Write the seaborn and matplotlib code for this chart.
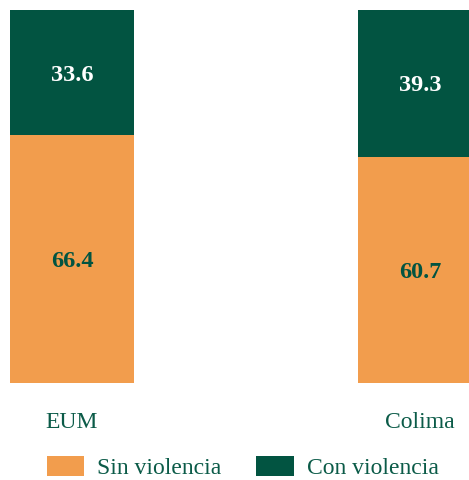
import matplotlib
matplotlib.use("Agg")
import matplotlib.pyplot as plt
import seaborn as sns
import pandas as pd
from matplotlib.patches import Patch

categories = ["EUM", "Colima"]
sin_violencia = [66.4, 60.7]
con_violencia = [33.6, 39.3]
legend_labels = ["Sin violencia", "Con violencia"]

ORANGE = "#F29D4D"
GREEN = "#025441"
TEXT_GREEN = "#0B5B48"

sns.set_theme(style="white")
plt.rcParams["font.family"] = ["Liberation Serif", "DejaVu Serif"]

df = pd.DataFrame({
    "cat": categories,
    "sin": sin_violencia,
    "con": con_violencia,
})
df["total"] = df["sin"] + df["con"]

fig = plt.figure(figsize=(4.69, 4.80), dpi=100)
ax = fig.add_axes([0, (480 - 383) / 480, 1, 373 / 480])

sns.barplot(data=df, x="cat", y="total", color=GREEN, width=0.356,
            saturation=1, ax=ax, linewidth=0)
sns.barplot(data=df, x="cat", y="sin", color=ORANGE, width=0.356,
            saturation=1, ax=ax, linewidth=0)

for i, (s, c) in enumerate(zip(sin_violencia, con_violencia)):
    ax.text(i, s / 2, f"{s:.1f}", ha="center", va="center_baseline", fontsize=17.5,
            fontweight="bold", color=GREEN)
    ax.text(i, s + c / 2, f"{c:.1f}", ha="center", va="center_baseline", fontsize=17.5,
            fontweight="bold", color="white")

ax.set_xlim(-72 / 348, (469 - 72) / 348)
ax.set_ylim(0, 100)
ax.set_xlabel("")
ax.set_ylabel("")
ax.set_yticks([])
ax.tick_params(axis="x", length=0, pad=21, labelsize=17, labelcolor=TEXT_GREEN)
sns.despine(ax=ax, left=True, bottom=True)

handles = [Patch(facecolor=ORANGE, edgecolor="none"),
           Patch(facecolor=GREEN, edgecolor="none")]
leg = fig.legend(handles, legend_labels, loc="center", bbox_to_anchor=(0.517, 0.026),
                 ncol=2, frameon=False, fontsize=17, handlelength=1.6,
                 handleheight=0.9, handletextpad=0.55, columnspacing=1.45,
                 borderpad=0, borderaxespad=0)
for t in leg.get_texts():
    t.set_color(TEXT_GREEN)

fig.savefig("out.png", dpi=100)
